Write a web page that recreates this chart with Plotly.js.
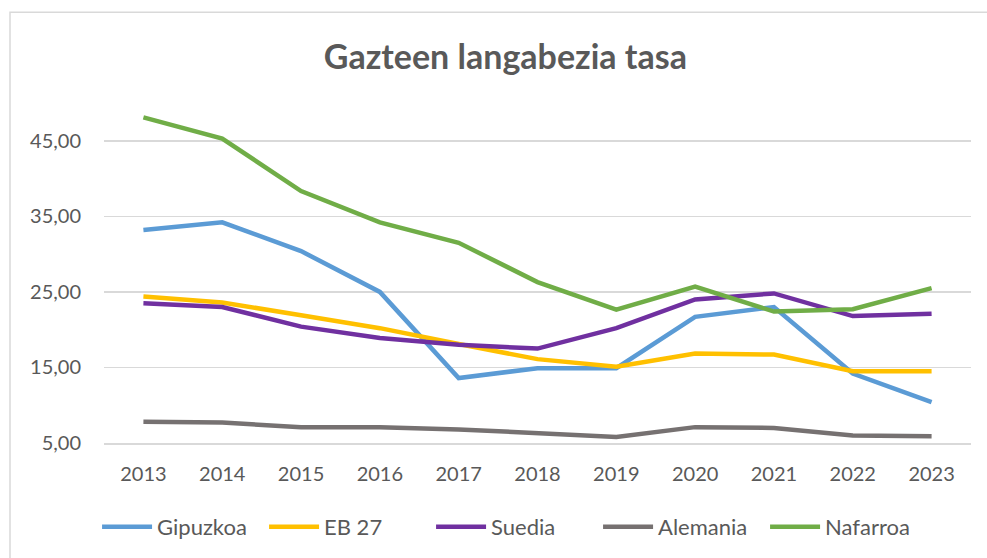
<!DOCTYPE html>
<html>
<head>
<meta charset="utf-8">
<script src="https://cdn.plot.ly/plotly-3.0.1.min.js"></script>
<style>html,body{margin:0;padding:0;background:#fff;}#chart{width:987px;height:558px;}</style>
</head>
<body>
<div id="chart"></div>
<script>
var years = ["2013","2014","2015","2016","2017","2018","2019","2020","2021","2022","2023"];
var gipuzkoa = [33.2, 34.2, 30.4, 25.0, 13.6, 14.9, 14.9, 21.7, 23.0, 14.2, 10.4];
var eb27     = [24.4, 23.6, 21.9, 20.2, 18.1, 16.1, 15.1, 16.85, 16.7, 14.5, 14.5];
var suedia   = [23.5, 23.0, 20.4, 18.9, 18.0, 17.5, 20.2, 24.0, 24.8, 21.8, 22.1];
var alemania = [7.8, 7.7, 7.1, 7.1, 6.8, 6.25, 5.8, 7.1, 7.0, 6.0, 5.9];
var nafarroa = [48.1, 45.3, 38.35, 34.2, 31.5, 26.3, 22.65, 25.7, 22.4, 22.7, 25.5];

var names  = ["Gipuzkoa", "EB 27", "Suedia", "Alemania", "Nafarroa"];
var series = [gipuzkoa, eb27, suedia, alemania, nafarroa];
var colors = ["#5B9BD5", "#FFC000", "#7030A0", "#767171", "#70AD47"];

var traces = series.map(function(s, i){
  return {x: years, y: s, name: names[i], type: "scatter", mode: "lines",
          line: {color: colors[i], width: 4.5}};
});

var font = "Lato, 'Open Sans', sans-serif";
var layout = {
  width: 987, height: 558,
  margin: {l: 104, r: 16, t: 103, b: 114},
  paper_bgcolor: "#fff", plot_bgcolor: "#fff",
  font: {family: font, color: "#595959", size: 20},
  separators: ",.",
  title: {text: "<b>Gazteen langabezia tasa</b>", x: 0.512, xanchor: "center", y: 0.897, yanchor: "middle",
          font: {family: font, size: 34, color: "#595959"}},
  xaxis: {type: "category", range: [-0.5, 10.5], showgrid: false, zeroline: false,
          showline: true, linecolor: "#D9D9D9", linewidth: 1.5, ticks: "",
          ticklabelstandoff: 12, tickfont: {size: 20, color: "#595959"}},
  yaxis: {range: [5, 50], tick0: 5, dtick: 10, tickformat: ".2f", showgrid: true,
          gridcolor: "#D9D9D9", gridwidth: 1.5, zeroline: false, showline: false,
          ticks: "", ticklabelstandoff: 22, tickfont: {size: 20, color: "#595959"}},
  legend: {orientation: "h", x: -0.008, xanchor: "left", y: -0.243, yanchor: "middle",
           font: {size: 22, color: "#595959"}, itemwidth: 50, entrywidth: 102,
           entrywidthmode: "pixels", traceorder: "normal"},
  shapes: [{type: "rect", xref: "paper", yref: "paper",
            x0: (10 - 104) / 867, x1: 1.1, y0: -0.5, y1: (444 - 12) / 341,
            line: {color: "#D9D9D9", width: 1.5}, fillcolor: "rgba(0,0,0,0)", layer: "below"}]
};

Plotly.newPlot("chart", traces, layout, {displayModeBar: false, staticPlot: true});
</script>
</body>
</html>
